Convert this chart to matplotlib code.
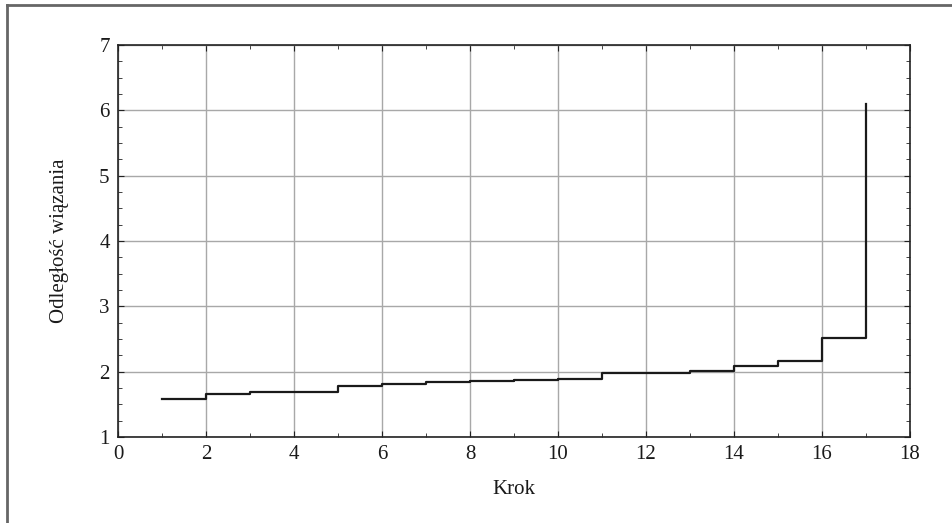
import matplotlib.pyplot as plt
from matplotlib.lines import Line2D
from matplotlib.ticker import MultipleLocator

plt.rcParams['font.family'] = ['Liberation Serif', 'DejaVu Serif']

# Linkage distance at each step
krok = [1, 2, 3, 4, 5, 6, 7, 8, 9, 10, 11, 12, 13, 14, 15, 16, 17]
odleglosc = [1.58, 1.66, 1.69, 1.69, 1.775, 1.81, 1.84, 1.86, 1.875, 1.895,
             1.985, 1.985, 2.01, 2.085, 2.16, 2.51, 6.10]

fig = plt.figure(figsize=(9.53, 5.23), dpi=100)
ax = fig.add_axes([118/953, 1 - 437/523, (910 - 118)/953, (437 - 45)/523])

ax.step(krok, odleglosc, where='post', color='#1a1a1a', lw=1.6)

ax.set_xlim(0, 18)
ax.set_ylim(1, 7)
ax.xaxis.set_major_locator(MultipleLocator(2))
ax.xaxis.set_minor_locator(MultipleLocator(1))
ax.yaxis.set_major_locator(MultipleLocator(1))
ax.yaxis.set_minor_locator(MultipleLocator(0.25))
ax.grid(True, which='major', color='#a8a8a8', lw=1)
ax.tick_params(which='both', direction='in', top=True, right=True,
               labelsize=15, color='#222222', labelcolor='#1a1a1a')
ax.tick_params(which='major', length=4)
ax.tick_params(which='minor', length=3)
ax.tick_params(axis='y', pad=6)
ax.tick_params(axis='x', pad=6)
for s in ax.spines.values():
    s.set_color('#222222')
    s.set_linewidth(1.2)

ax.set_xlabel('Krok', fontsize=15, labelpad=11, color='#1a1a1a')
ax.set_ylabel('Odległość wiązania', fontsize=15, labelpad=22, color='#1a1a1a')

# outer frame (left and top edges visible)
fig.add_artist(Line2D([7/953, 7/953], [0, 1 - 5/523], transform=fig.transFigure,
                      color='#666666', lw=2))
fig.add_artist(Line2D([7/953, 1], [1 - 5/523, 1 - 5/523], transform=fig.transFigure,
                      color='#666666', lw=2))

fig.savefig('out.png', dpi=100)
